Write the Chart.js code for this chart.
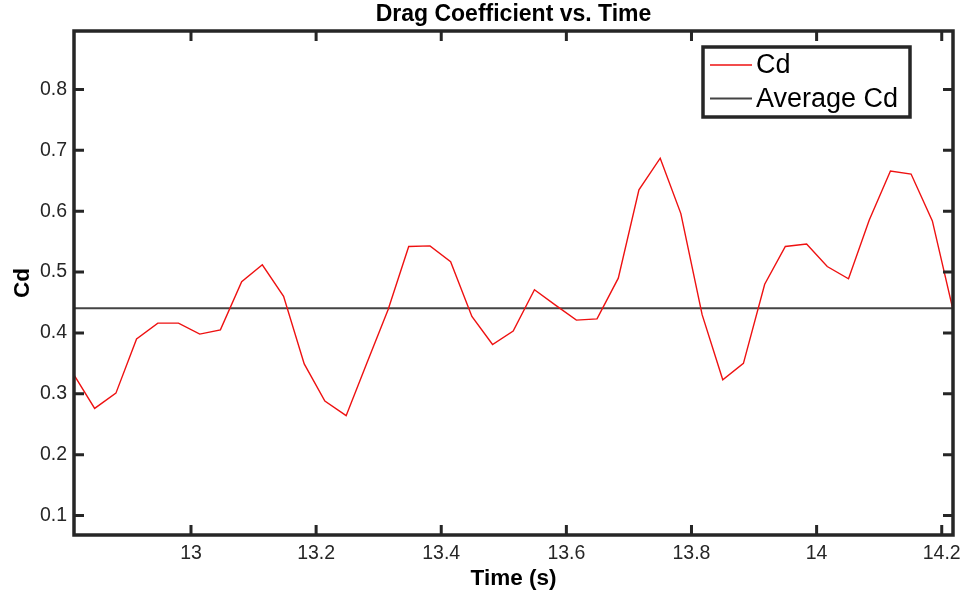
<!DOCTYPE html>
<html lang="en">
<head>
<meta charset="UTF-8">
<title>Drag Coefficient vs. Time</title>
<script src="https://cdn.jsdelivr.net/npm/chart.js"></script>
<style>
  html, body { margin: 0; padding: 0; background: #fff; }
  #wrap { width: 963px; height: 597px; }
</style>
</head>
<body>
<div id="wrap"><canvas id="cdChart" width="963" height="597"></canvas></div>
<script>
// time stamps (s)
const timeS = [
  12.813, 12.846, 12.880, 12.913, 12.947, 12.980, 13.014, 13.047, 13.081, 13.114,
  13.148, 13.181, 13.214, 13.248, 13.281, 13.315, 13.348, 13.382, 13.415, 13.449,
  13.482, 13.515, 13.549, 13.582, 13.616, 13.649, 13.683, 13.716, 13.750, 13.783,
  13.817, 13.850, 13.883, 13.917, 13.950, 13.984, 14.017, 14.051, 14.084, 14.118,
  14.151, 14.185, 14.218
];
const cdValues = [
  0.331, 0.276, 0.301, 0.390, 0.416, 0.416, 0.398, 0.405, 0.484, 0.512,
  0.460, 0.349, 0.288, 0.264, 0.350, 0.438, 0.542, 0.543, 0.517, 0.427,
  0.381, 0.403, 0.471, 0.446, 0.421, 0.423, 0.490, 0.635, 0.687, 0.596,
  0.430, 0.323, 0.350, 0.480, 0.542, 0.546, 0.509, 0.489, 0.585, 0.666,
  0.661, 0.584, 0.438
];
const avgCd = 0.4405;

const xTickVals = [13, 13.2, 13.4, 13.6, 13.8, 14, 14.2];
const yTickVals = [0.1, 0.2, 0.3, 0.4, 0.5, 0.6, 0.7, 0.8];
const xRange = [12.813, 14.218];
const yRange = [0.068, 0.896];

const axisColor = '#262626';
const fontFamily = '"Liberation Sans", Arial, Helvetica, sans-serif';

// box round the axes with inward ticks, MATLAB style
const framePlugin = {
  id: 'frame',
  afterDatasetsDraw(chart) {
    const { ctx, chartArea: a, scales: { x, y } } = chart;
    const tl = 10;
    ctx.save();
    ctx.strokeStyle = axisColor;
    ctx.lineWidth = 3;
    ctx.beginPath();
    xTickVals.forEach(v => {
      const px = x.getPixelForValue(v);
      ctx.moveTo(px, a.bottom); ctx.lineTo(px, a.bottom - tl);
      ctx.moveTo(px, a.top); ctx.lineTo(px, a.top + tl);
    });
    yTickVals.forEach(v => {
      const py = y.getPixelForValue(v);
      ctx.moveTo(a.left, py); ctx.lineTo(a.left + tl, py);
      ctx.moveTo(a.right, py); ctx.lineTo(a.right - tl, py);
    });
    ctx.stroke();
    ctx.lineWidth = 3.5;
    ctx.strokeRect(a.left, a.top, a.right - a.left, a.bottom - a.top);
    ctx.restore();
  }
};

// legend box inside the upper right corner
const boxLegend = {
  id: 'boxLegend',
  afterDraw(chart) {
    const { ctx, chartArea: a } = chart;
    const w = 207, h = 70;
    const bx = a.right - 43 - w, by = a.top + 16;
    ctx.save();
    ctx.fillStyle = '#fff';
    ctx.fillRect(bx, by, w, h);
    ctx.strokeStyle = axisColor;
    ctx.lineWidth = 3.5;
    ctx.strokeRect(bx, by, w, h);
    ctx.font = '27px ' + fontFamily;
    ctx.textBaseline = 'middle';
    ctx.textAlign = 'left';
    chart.data.datasets.forEach((ds, i) => {
      const cy = by + 18 + i * 33.5;
      ctx.strokeStyle = ds.borderColor;
      ctx.lineWidth = ds.borderWidth;
      ctx.beginPath();
      ctx.moveTo(bx + 7, cy);
      ctx.lineTo(bx + 49, cy);
      ctx.stroke();
      ctx.fillStyle = '#000';
      ctx.fillText(ds.label, bx + 53, cy + 1);
    });
    ctx.restore();
  }
};

Chart.defaults.font.family = fontFamily;
Chart.defaults.color = axisColor;

new Chart(document.getElementById('cdChart'), {
  type: 'line',
  data: {
    datasets: [
      {
        label: 'Cd',
        data: timeS.map((t, i) => ({ x: t, y: cdValues[i] })),
        borderColor: '#ee1111',
        borderWidth: 1.4,
        pointRadius: 0,
        tension: 0
      },
      {
        label: 'Average Cd',
        data: [{ x: xRange[0], y: avgCd }, { x: xRange[1], y: avgCd }],
        borderColor: '#444444',
        borderWidth: 2,
        pointRadius: 0
      }
    ]
  },
  options: {
    responsive: false,
    animation: false,
    layout: { padding: { left: 0, right: 10, top: 0, bottom: 0 } },
    plugins: {
      legend: { display: false },
      tooltip: { enabled: false },
      title: {
        display: true,
        text: 'Drag Coefficient vs. Time',
        fullSize: false,
        color: '#000',
        font: { size: 23, weight: 'bold' },
        padding: { top: 0.7, bottom: 2.7 }
      }
    },
    scales: {
      x: {
        type: 'linear',
        min: xRange[0],
        max: xRange[1],
        afterBuildTicks: s => { s.ticks = xTickVals.map(v => ({ value: v })); },
        afterFit: s => { s.height = 62; s.paddingLeft = 0; s.paddingRight = 0; },
        grid: { display: false, drawTicks: false },
        border: { display: false },
        ticks: {
          padding: 7,
          maxRotation: 0,
          font: { size: 19.5 },
          callback: v => String(+v.toFixed(1))
        },
        title: {
          display: true,
          text: 'Time (s)',
          color: '#000',
          font: { size: 22.5, weight: 'bold' },
          padding: { top: 0, bottom: 5 }
        }
      },
      y: {
        type: 'linear',
        min: yRange[0],
        max: yRange[1],
        afterBuildTicks: s => { s.ticks = yTickVals.map(v => ({ value: v })); },
        afterFit: s => { s.width = 74; s.paddingTop = 0; s.paddingBottom = 0; },
        grid: { display: false, drawTicks: false },
        border: { display: false },
        ticks: {
          padding: 7,
          font: { size: 19.5 },
          callback: v => v.toFixed(1)
        },
        title: {
          display: true,
          text: 'Cd',
          color: '#000',
          font: { size: 22.5, weight: 'bold' },
          padding: { top: 9, bottom: 0 }
        }
      }
    }
  },
  plugins: [framePlugin, boxLegend]
});
</script>
</body>
</html>
